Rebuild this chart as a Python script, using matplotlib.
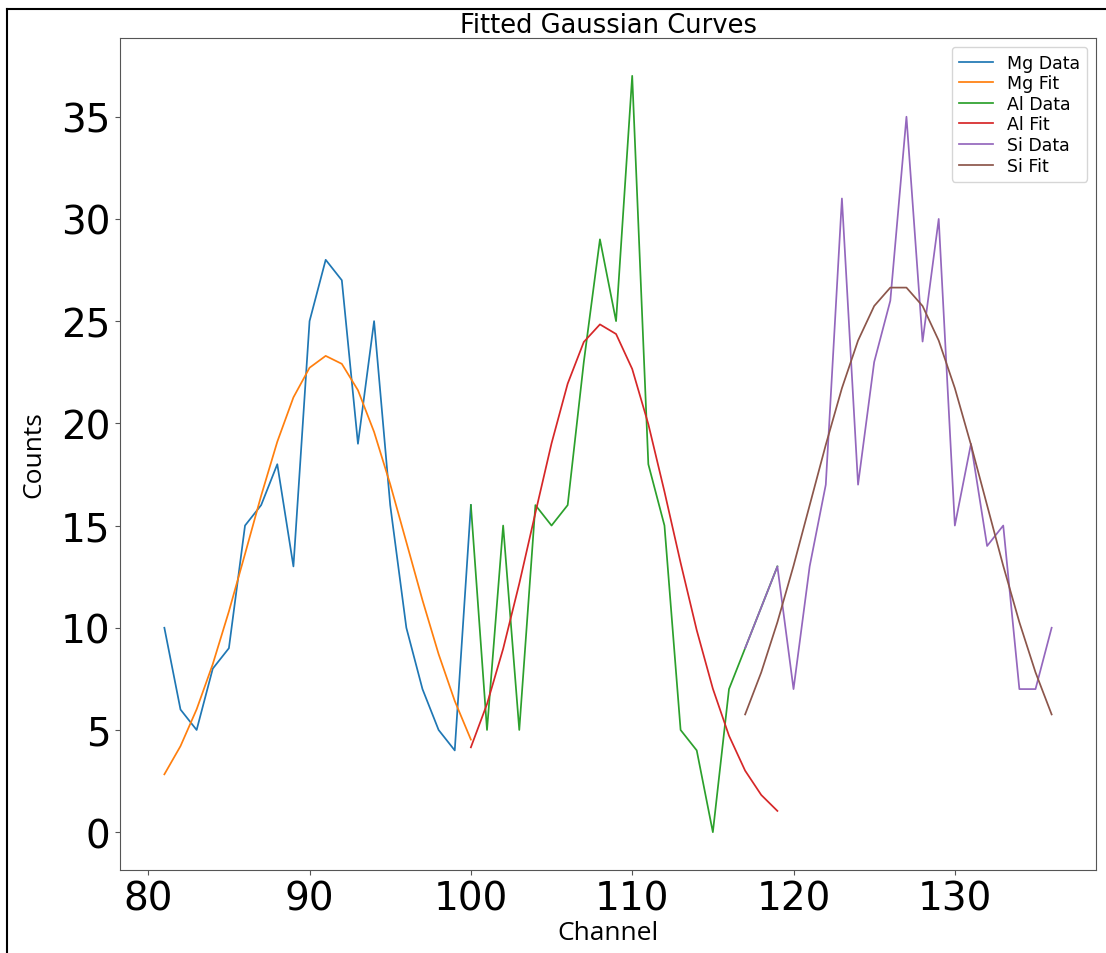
import numpy as np
import matplotlib
matplotlib.use("Agg")
import matplotlib.pyplot as plt
from matplotlib.lines import Line2D

# ------------------------------Define layout------------------------------
plt.rc('font', size=12)
plt.rc('xtick', labelsize=28)
plt.rc('ytick', labelsize=28)
plt.rc('axes', titlesize=18.5)
plt.rc('axes', edgecolor='#555555')
plt.rc('lines', linewidth=1.25)

# ------------------------------Data----------------------------------------
mg_channel = list(range(81, 101))
mg_counts = [10, 6, 5, 8, 9, 15, 16, 18, 13, 25, 28, 27, 19, 25, 16, 10, 7, 5, 4, 16]
mg_fit = [2.83, 4.21, 6.01, 8.22, 10.80, 13.61, 16.46, 19.10, 21.27, 22.72,
          23.30, 22.91, 21.62, 19.58, 17.02, 14.19, 11.35, 8.71, 6.42, 4.53]

al_channel = list(range(100, 120))
al_counts = [16, 5, 15, 5, 16, 15, 16, 23, 29, 25, 37, 18, 15, 5, 4, 0, 7, 9, 11, 13]
al_fit = [4.15, 6.27, 8.97, 12.16, 15.62, 19.02, 21.94, 23.98, 24.84, 24.37,
          22.66, 19.96, 16.66, 13.18, 9.88, 7.02, 4.72, 3.01, 1.82, 1.04]

si_channel = list(range(117, 137))
si_counts = [9, 11, 13, 7, 13, 17, 31, 17, 23, 26, 35, 24, 30, 15, 19, 14, 15, 7, 7, 10]
si_fit = [5.76, 7.82, 10.27, 13.03, 15.99, 18.95, 21.72, 24.05, 25.74, 26.64,
          26.64, 25.74, 24.05, 21.72, 18.95, 15.99, 13.03, 10.27, 7.82, 5.76]

# ------------------------------Plotting------------------------------------
fig, ax = plt.subplots(figsize=(11.06, 9.54), dpi=100)
fig.subplots_adjust(left=120 / 1106, right=1096 / 1106, top=1 - 39 / 954, bottom=1 - 871 / 954)

ax.plot(mg_channel, mg_counts, label='Mg Data')
ax.plot(mg_channel, mg_fit, label='Mg Fit')
ax.plot(al_channel, al_counts, label='Al Data')
ax.plot(al_channel, al_fit, label='Al Fit')
ax.plot(si_channel, si_counts, label='Si Data')
ax.plot(si_channel, si_fit, label='Si Fit')

ax.set_title('Fitted Gaussian Curves', pad=3)
ax.set_xlabel('Channel', family='Open Sans', fontsize=19, labelpad=2)
ax.set_ylabel('Counts', family='Open Sans', fontsize=19, labelpad=10)
ax.set_xticks([80, 90, 100, 110, 120, 130])
ax.set_yticks([0, 5, 10, 15, 20, 25, 30, 35])
ax.tick_params(color='#555555')

ax.legend(loc='upper right', fontsize=12.5, labelspacing=0.15)

# screenshot frame on the top and left edge
fig.add_artist(Line2D([7 / 1106, 1], [1 - 10 / 954, 1 - 10 / 954], color='black', lw=1.5))
fig.add_artist(Line2D([7 / 1106, 7 / 1106], [0, 1 - 10 / 954], color='black', lw=1.5))

fig.savefig('out.png', dpi=100)
